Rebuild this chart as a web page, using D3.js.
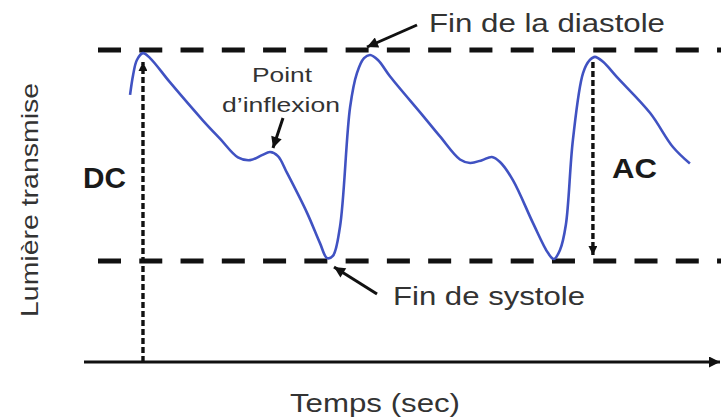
<!DOCTYPE html>
<html>
<head>
<meta charset="utf-8">
<script src="https://cdn.jsdelivr.net/npm/d3@7"></script>
<style>
  body { margin: 0; background: #fff; }
  text { font-family: "Liberation Sans", Arial, sans-serif; }
</style>
</head>
<body>
<div id="chart"></div>
<script>
// PPG signal: time (s) and transmitted light (arbitrary units)
var times = [0.178, 0.190, 0.205, 0.229, 0.257, 0.336, 0.466, 0.533, 0.604, 0.652, 0.699, 0.731, 0.762, 0.798, 0.877, 0.928, 0.956, 0.979,
             1.007, 1.047, 1.074, 1.102, 1.126, 1.157, 1.205, 1.335, 1.402, 1.481, 1.521, 1.568, 1.607, 1.639, 1.690, 1.769, 1.829, 1.852,
             1.876, 1.899, 1.927, 1.967, 1.994, 2.014, 2.046, 2.101, 2.232, 2.322, 2.389];
var light = [85.6, 92.0, 96.8, 99.0, 97.4, 89.6, 77.4, 71.6, 65.6, 64.7, 66.3, 67.3, 66.0, 60.6, 47.8, 38.1, 33.3, 34.0,
             43.3, 81.7, 92.6, 97.4, 98.4, 96.8, 91.5, 78.9, 72.3, 64.9, 63.8, 64.7, 65.7, 64.1, 58.3, 44.6, 34.9, 33.0,
             35.9, 43.9, 71.2, 92.6, 96.8, 97.8, 96.2, 91.3, 79.8, 68.9, 63.6];

// reference levels and markers
var levels = [100, 32.4];          // end of diastole, end of systole
var dcTime = 0.229, acTime = 2.006;
var timeDomain = [0, 2.5], lightDomain = [0, 100];

var W = 721, H = 419;
var x = d3.scaleLinear().domain(timeDomain).range([85, 718]);
var y = d3.scaleLinear().domain(lightDomain).range([362, 50]);

var svg = d3.select("#chart").append("svg")
    .attr("width", W).attr("height", H);

var defs = svg.append("defs");
function marker(id, w, h) {
  defs.append("marker")
      .attr("id", id)
      .attr("viewBox", "0 0 10 10")
      .attr("refX", 10).attr("refY", 5)
      .attr("markerWidth", w).attr("markerHeight", h)
      .attr("markerUnits", "userSpaceOnUse")
      .attr("orient", "auto")
    .append("path")
      .attr("d", "M0,0 L10,5 L0,10 Z")
      .attr("fill", "#111");
}
marker("head", 12, 11);
marker("small", 9, 9);

// dashed reference lines
svg.selectAll(".level")
    .data(levels)
  .enter().append("line")
    .attr("class", "level")
    .attr("x1", 98).attr("x2", W)
    .attr("y1", function (d) { return y(d); })
    .attr("y2", function (d) { return y(d); })
    .attr("stroke", "#111")
    .attr("stroke-width", 5)
    .attr("stroke-dasharray", "23,18.27");

// time axis
svg.append("line")
    .attr("x1", x(timeDomain[0]) - 1).attr("x2", x(timeDomain[1]) + 2)
    .attr("y1", y(0)).attr("y2", y(0))
    .attr("stroke", "#111")
    .attr("stroke-width", 3)
    .attr("marker-end", "url(#head)");

// DC arrow
svg.append("line")
    .attr("x1", x(dcTime)).attr("x2", x(dcTime))
    .attr("y1", y(0)).attr("y2", y(levels[0]) + 12)
    .attr("stroke", "#111")
    .attr("stroke-width", 3.4)
    .attr("stroke-dasharray", "6,3")
    .attr("marker-end", "url(#small)");

// AC arrow
svg.append("line")
    .attr("x1", x(acTime)).attr("x2", x(acTime))
    .attr("y1", y(levels[0]) + 12).attr("y2", y(levels[1]) - 6)
    .attr("stroke", "#111")
    .attr("stroke-width", 3.4)
    .attr("stroke-dasharray", "6,3")
    .attr("marker-end", "url(#small)");

// signal
var pts = times.map(function (t, i) { return [t, light[i]]; });
var line = d3.line()
    .x(function (d) { return x(d[0]); })
    .y(function (d) { return y(d[1]); })
    .curve(d3.curveCatmullRom.alpha(0.5));

svg.append("path")
    .datum(pts)
    .attr("d", line)
    .attr("fill", "none")
    .attr("stroke", "#4052c2")
    .attr("stroke-width", 2.6)
    .attr("stroke-linejoin", "round");

// annotation arrows
function arrow(x1, y1, x2, y2) {
  svg.append("line")
      .attr("x1", x1).attr("y1", y1).attr("x2", x2).attr("y2", y2)
      .attr("stroke", "#111")
      .attr("stroke-width", 3)
      .attr("marker-end", "url(#head)");
}
arrow(417, 25, 367, 47);     // fin de la diastole
arrow(283, 118, 273, 148);   // point d'inflexion
arrow(377, 294, 334, 267);   // fin de systole

// labels
function label(txt, px, py, size, len, opts) {
  opts = opts || {};
  var t = svg.append("text")
      .attr("x", px).attr("y", py)
      .attr("font-size", size)
      .attr("fill", opts.fill || "#333")
      .attr("font-weight", opts.bold ? "bold" : "normal")
      .attr("text-anchor", opts.anchor || "start")
      .attr("textLength", len)
      .attr("lengthAdjust", "spacingAndGlyphs")
      .text(txt);
  if (opts.transform) t.attr("transform", opts.transform);
  return t;
}
label("Fin de la diastole", 429, 32, 25, 236);
label("Point", 252, 82, 21, 60);
label("d\u2019inflexion", 222, 112, 21, 118);
label("Fin de systole", 393, 305, 25, 192);
label("Temps (sec)", 290, 412, 26, 170);
label("DC", 83, 188, 29, 43, { bold: true, fill: "#1a1a1a" });
label("AC", 612, 178, 28, 45, { bold: true, fill: "#1a1a1a" });
label("Lumière transmise", 0, 0, 24, 234, { anchor: "middle", transform: "translate(38,200) rotate(-90)" });
</script>
</body>
</html>
